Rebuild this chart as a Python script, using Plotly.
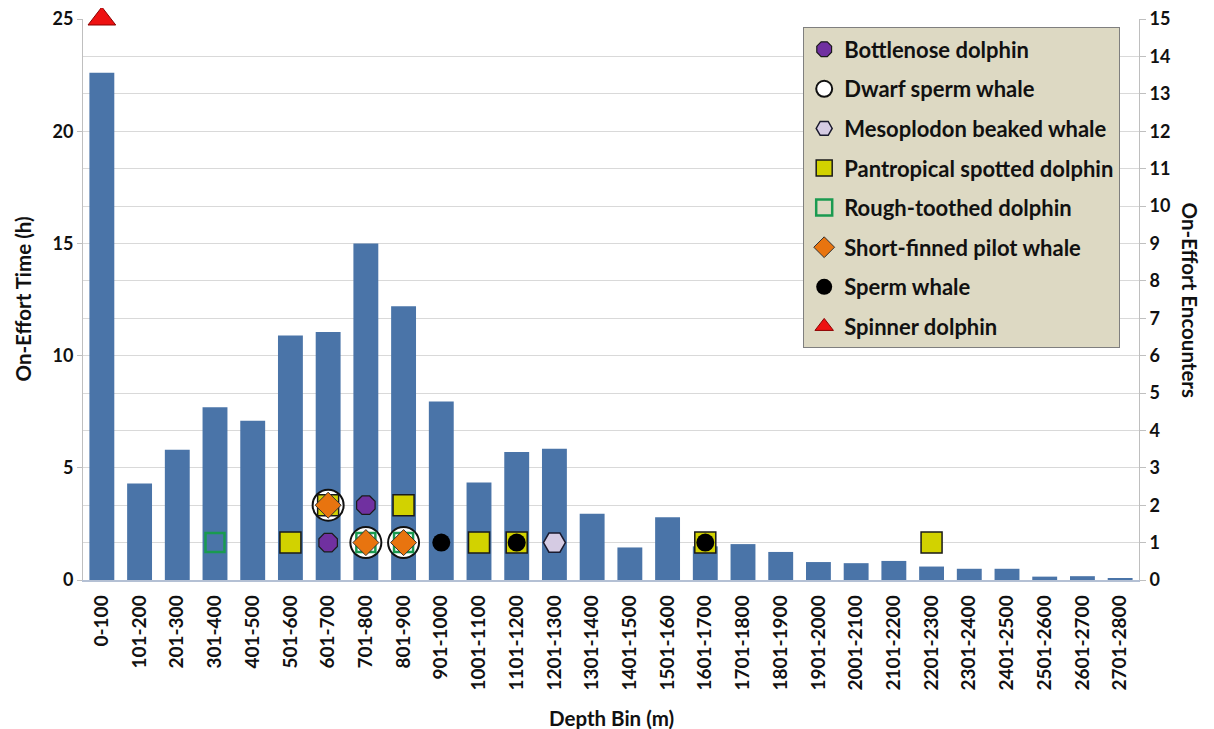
import plotly.graph_objects as go

depth_bins = ["0-100", "101-200", "201-300", "301-400", "401-500", "501-600", "601-700",
              "701-800", "801-900", "901-1000", "1001-1100", "1101-1200", "1201-1300",
              "1301-1400", "1401-1500", "1501-1600", "1601-1700", "1701-1800", "1801-1900",
              "1901-2000", "2001-2100", "2101-2200", "2201-2300", "2301-2400", "2401-2500",
              "2501-2600", "2601-2700", "2701-2800"]

effort_hours = [22.6, 4.3, 5.8, 7.7, 7.1, 10.9, 11.05, 15.0, 12.2, 7.95, 4.35, 5.7, 5.85,
                2.95, 1.45, 2.8, 1.5, 1.6, 1.25, 0.8, 0.75, 0.85, 0.6, 0.5, 0.5, 0.15, 0.17, 0.06]

# On-effort encounters per species (None = no encounter)
N = None
bottlenose   = [N, N, N, N, N, N, 1, 2, N, N, N, N, N, N, N, N, N, N, N, N, N, N, N, N, N, N, N, N]
dwarf_sperm  = [N, N, N, N, N, N, 2, 1, 1, N, N, N, N, N, N, N, N, N, N, N, N, N, N, N, N, N, N, N]
mesoplodon   = [N, N, N, N, N, N, N, N, N, N, N, N, 1, N, N, N, N, N, N, N, N, N, N, N, N, N, N, N]
pantropical  = [N, N, N, N, N, 1, 2, N, 2, N, 1, 1, N, N, N, N, 1, N, N, N, N, N, 1, N, N, N, N, N]
rough_tooth  = [N, N, N, 1, N, N, N, 1, 1, N, N, N, N, N, N, N, N, N, N, N, N, N, N, N, N, N, N, N]
pilot_whale  = [N, N, N, N, N, N, 2, 1, 1, N, N, N, N, N, N, N, N, N, N, N, N, N, N, N, N, N, N, N]
sperm_whale  = [N, N, N, N, N, N, N, N, N, 1, N, 1, N, N, N, N, 1, N, N, N, N, N, N, N, N, N, N, N]
spinner      = [15, N, N, N, N, N, N, N, N, N, N, N, N, N, N, N, N, N, N, N, N, N, N, N, N, N, N, N]

left_ticks = [0, 5, 10, 15, 20, 25]
right_ticks = list(range(16))

FONT = "Lato"
BOLD = dict(family=FONT, weight="bold", color="#111111")
fig = go.Figure()

fig.add_trace(go.Bar(x=depth_bins, y=effort_hours, marker=dict(color="#4a74a8", line=dict(width=0)),
                     showlegend=False, yaxis="y"))

species = [
    ("Bottlenose dolphin", bottlenose, dict(symbol="octagon", size=20, color="#7030a0", line=dict(color="#1a1a1a", width=1.2))),
    ("Dwarf sperm whale", dwarf_sperm, dict(symbol="circle", size=31, color="#ffffff", line=dict(color="#111111", width=2))),
    ("Mesoplodon beaked whale", mesoplodon, dict(symbol="hexagon2", size=22, color="#d5cbe3", line=dict(color="#1a1a2e", width=1.5))),
    ("Pantropical spotted dolphin", pantropical, dict(symbol="square", size=21, color="#d2d200", line=dict(color="#1a1a1a", width=1.5))),
    ("Rough-toothed dolphin", rough_tooth, dict(symbol="square-open", size=19, color="#1a9a50", line=dict(color="#1a9a50", width=2.5))),
    ("Short-finned pilot whale", pilot_whale, dict(symbol="diamond", size=20, color="#e8740f", line=dict(color="#333333", width=1))),
    ("Sperm whale", sperm_whale, dict(symbol="circle", size=18, color="#000000", line=dict(width=0))),
    ("Spinner dolphin", spinner, dict(symbol="triangle-up", size=24, color="#ee1111", line=dict(color="#8b0000", width=1))),
]
for i, (name, vals, mk) in enumerate(species):
    fig.add_trace(go.Scatter(x=depth_bins, y=vals, mode="markers", name=name, marker=mk,
                             yaxis="y2", legendgroup="g%d" % i, cliponaxis=False))

fig.update_layout(
    width=1206, height=721,
    margin=dict(l=75, r=75, t=11, b=149),
    paper_bgcolor="white", plot_bgcolor="white",
    font=dict(size=16, **BOLD),
    bargap=0.34,
    xaxis=dict(type="category", range=[-0.5, len(depth_bins) - 0.5], tickangle=-90, showgrid=False,
               showline=True, linecolor="#b4c0d4", linewidth=1.5,
               ticks="outside", ticklen=6, tickcolor="rgba(0,0,0,0)",
               tickfont=dict(size=19, **BOLD), automargin=False),
    yaxis=dict(range=[0, 25], tickvals=left_ticks, showgrid=False, showline=True,
               linecolor="#bfbfbf", linewidth=1, ticks="outside", ticklen=5, tickcolor="#bfbfbf",
               tickfont=dict(size=18, **BOLD), zeroline=False, automargin=False,
               ticklabeloverflow="allow"),
    yaxis2=dict(range=[0, 15], tickvals=right_ticks, overlaying="y", side="right",
                showgrid=True, gridcolor="#d9d9d9", gridwidth=1, showline=True, linecolor="#bfbfbf",
                ticks="outside", ticklen=6, tickcolor="#bfbfbf", zeroline=False,
                tickfont=dict(size=18, **BOLD), automargin=False, ticklabeloverflow="allow"),
    legend=dict(x=0.682, y=0.985, xanchor="left", yanchor="top", bgcolor="#ddd9c3",
                bordercolor="#7f7f7f", borderwidth=1, font=dict(size=22, **BOLD),
                tracegroupgap=8, itemsizing="trace"),
    annotations=[
        dict(text="On-Effort Time (h)", xref="paper", yref="paper", x=0, y=0.5, xshift=-61,
             textangle=-90, showarrow=False, font=dict(size=20.5, **BOLD), xanchor="center", yanchor="middle"),
        dict(text="On-Effort Encounters", xref="paper", yref="paper", x=1, y=0.5, xshift=51,
             textangle=90, showarrow=False, font=dict(size=20.5, **BOLD), xanchor="center", yanchor="middle"),
        dict(text="Depth Bin (m)", xref="paper", yref="paper", x=0.5, y=0, yshift=-138,
             showarrow=False, font=dict(size=20.5, **BOLD), xanchor="center", yanchor="middle"),
    ],
)

fig.write_html("out.html")
